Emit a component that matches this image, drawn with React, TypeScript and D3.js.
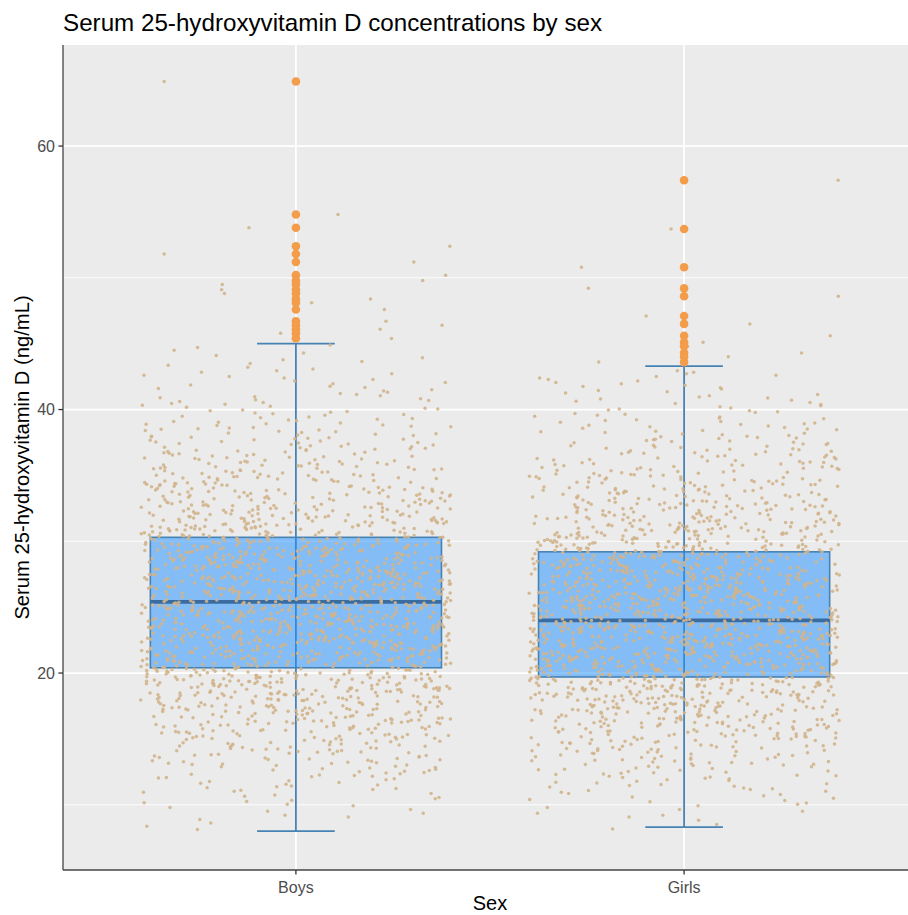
import React from 'react';
import * as d3 from 'd3';

// categories and box statistics (ng/mL)
const sexes = ['Boys', 'Girls'];
const whiskerLow = [8.0, 8.3];
const q1 = [20.4, 19.7];
const median = [25.4, 24.0];
const q3 = [30.3, 29.2];
const whiskerHigh = [45.0, 43.3];

// outliers drawn by the boxplot
const boysOutliers = [64.9, 54.8, 53.8, 52.4, 51.8, 51.2, 50.2, 49.8, 49.5, 49.1, 48.8, 48.4, 48.1, 47.6, 46.7, 46.4, 46.1, 45.8, 45.4];
const girlsOutliers = [57.4, 53.7, 50.8, 49.2, 48.6, 47.1, 46.5, 45.6, 45.1, 44.8, 44.3, 44.0, 43.6];

// jittered observations: how many fall in each 1 ng/mL bin, starting at 8
const boysBinCounts = [4, 7, 10, 15, 21, 28, 35, 43, 52, 60, 68, 76, 80, 86, 90, 92, 93, 93, 92, 90, 86, 80, 72, 64, 56, 49, 42, 36, 30, 25, 21, 17, 14, 11, 9, 7, 5];
const girlsBinCounts = [3, 7, 11, 16, 22, 30, 38, 47, 57, 66, 75, 83, 90, 95, 98, 99, 98, 95, 91, 86, 80, 73, 65, 57, 50, 43, 37, 32, 27, 22, 18, 15, 12, 10, 9];
const firstBin = 8;

const yTicks = [20, 40, 60];
const yMinor = [10, 30, 50];

const W = 908, H = 915;
const left = 63, right = 917, top = 45, bottom = 870;
const font = '"Liberation Sans", Arial, Helvetica, sans-serif';

const x = d3.scalePoint<string>().domain(sexes).range([left, right]).padding(0.6);
const y = d3.scaleLinear().domain([5.05, 67.67]).range([bottom, top]);
const step = x.step();

// layout only: spreads points sideways like geom_jitter(width = 0.4)
const spread = (i: number) => {
  const s = Math.sin(i * 12.9898 + 78.233) * 43758.5453;
  return s - Math.floor(s);
};

const jitterFor = (counts: number[], extra: number[], g: number) => {
  const vals: number[] = [];
  counts.forEach((n, b) => {
    for (let k = 0; k < n; k++) vals.push(firstBin + b + (k + 0.5) / n);
  });
  extra.forEach(v => vals.push(v));
  return vals.map((v, i) => ({ v, dx: (spread(i * 7.13 + g * 1000) - 0.5) * 0.8 * step }));
};

const groups = [
  { jit: jitterFor(boysBinCounts, boysOutliers, 0), out: boysOutliers },
  { jit: jitterFor(girlsBinCounts, girlsOutliers, 1), out: girlsOutliers },
];

const App = () => {
  const boxW = step * 0.75;
  const capW = step * 0.1;
  return (
    <div style={{ position: 'absolute', left: 0, top: 0 }}>
      <svg width={W} height={H} style={{ display: 'block', fontFamily: font }}>
        <rect x={left} y={top} width={right - left} height={bottom - top} fill="#EBEBEB" />
        {yMinor.map(t => (
          <line key={'m' + t} x1={left} x2={right} y1={y(t)} y2={y(t)} stroke="#fff" strokeWidth={0.9} />
        ))}
        {yTicks.map(t => (
          <line key={'g' + t} x1={left} x2={right} y1={y(t)} y2={y(t)} stroke="#fff" strokeWidth={1.8} />
        ))}
        {sexes.map(s => (
          <line key={'v' + s} x1={x(s)} x2={x(s)} y1={top} y2={bottom} stroke="#fff" strokeWidth={1.8} />
        ))}

        {sexes.map((s, g) => {
          const cx = x(s) as number;
          return (
            <g key={s}>
              <line x1={cx} x2={cx} y1={y(whiskerLow[g])} y2={y(whiskerHigh[g])} stroke="#4682B4" strokeWidth={1.8} />
              <line x1={cx - capW} x2={cx + capW} y1={y(whiskerLow[g])} y2={y(whiskerLow[g])} stroke="#4682B4" strokeWidth={1.8} />
              <line x1={cx - capW} x2={cx + capW} y1={y(whiskerHigh[g])} y2={y(whiskerHigh[g])} stroke="#4682B4" strokeWidth={1.8} />
              <rect x={cx - boxW / 2} y={y(q3[g])} width={boxW} height={y(q1[g]) - y(q3[g])}
                fill="#1E90FF" fillOpacity={0.5} stroke="#4682B4" strokeWidth={1.6} />
              <line x1={cx - boxW / 2} x2={cx + boxW / 2} y1={y(median[g])} y2={y(median[g])} stroke="#3A6CA0" strokeWidth={3.8} />
            </g>
          );
        })}

        {sexes.map((s, g) => (
          <g key={'j' + s} fill="#D2B48C" fillOpacity={0.9}>
            {groups[g].jit.map((p, i) => (
              <circle key={i} cx={(x(s) as number) + p.dx} cy={y(p.v)} r={1.75} />
            ))}
          </g>
        ))}

        {sexes.map((s, g) => (
          <g key={'o' + s} fill="#F39C4A">
            {groups[g].out.map((v, i) => (
              <circle key={i} cx={x(s)} cy={y(v)} r={4.3} />
            ))}
          </g>
        ))}

        <line x1={left} x2={left} y1={top} y2={bottom} stroke="#444" strokeWidth={1.3} />
        <line x1={left} x2={right} y1={bottom} y2={bottom} stroke="#444" strokeWidth={1.3} />

        {yTicks.map(t => (
          <g key={'yt' + t}>
            <line x1={left - 4.6} x2={left} y1={y(t)} y2={y(t)} stroke="#333" strokeWidth={1.3} />
            <text x={left - 8} y={y(t)} dy="0.35em" textAnchor="end" fontSize={16} fill="#4D4D4D">{t}</text>
          </g>
        ))}
        {sexes.map(s => (
          <g key={'xt' + s}>
            <line x1={x(s)} x2={x(s)} y1={bottom} y2={bottom + 4.6} stroke="#333" strokeWidth={1.3} />
            <text x={x(s)} y={893} textAnchor="middle" fontSize={16} fill="#4D4D4D">{s}</text>
          </g>
        ))}

        <text x={(left + right) / 2} y={910} textAnchor="middle" fontSize={20} fill="#000">Sex</text>
        <text transform={`translate(29,${(top + bottom) / 2}) rotate(-90)`} textAnchor="middle" fontSize={20.2} fill="#000">
          Serum 25-hydroxyvitamin D (ng/mL)
        </text>
        <text x={left} y={31} fontSize={24.2} fill="#000">Serum 25-hydroxyvitamin D concentrations by sex</text>
      </svg>
    </div>
  );
};

export default App;
